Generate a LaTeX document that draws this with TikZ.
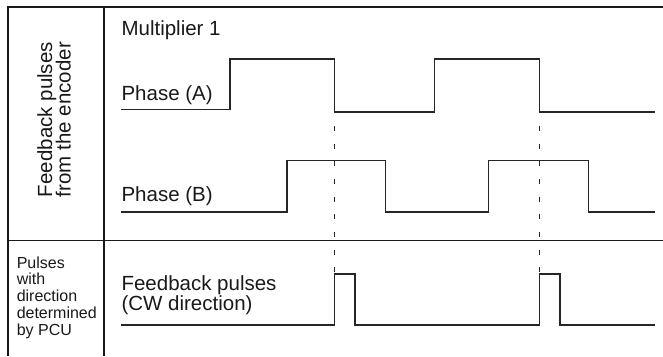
\documentclass[tikz,border=0pt]{standalone}
\usepackage{fontspec}
\setmainfont{Liberation Sans}
\newcommand\mytightlines{\lineskiplimit=-30pt\relax}
\newcommand\mybigfont{\fontsize{20.5}{20}\selectfont\mytightlines}
\newcommand\myrotfont{\fontsize{20.5}{18.7}\selectfont\mytightlines}
\newcommand\mysmallfont{\fontsize{16}{16.7}\selectfont\mytightlines}
\begin{document}
\begin{tikzpicture}[x=1pt,y=-1pt, line width=1.1pt,
  frame/.style={draw=black!90},
  wave/.style={draw=black!85, line join=miter},
  guide/.style={draw=black!85, line width=1pt, dash pattern=on 5pt off 12.65pt},
  big/.style={font=\mybigfont, text=black!90, inner sep=0pt, anchor=base west, align=left},
  small/.style={font=\mysmallfont, text=black!90, inner sep=0pt, anchor=base west, align=left}]
\useasboundingbox (0,0) rectangle (663,356);
% frame
\coordinate (ftr) at (663,7);
\coordinate (ftl) at (8,7);
\coordinate (fbl) at (8,356);
\coordinate (dtop) at (104,7);
\coordinate (dbot) at (104,356);
\coordinate (hl) at (8,240.7);
\coordinate (hr) at (663,240.7);
\draw[frame] (ftr) -- (ftl) -- (fbl);
\draw[frame] (dtop) -- (dbot);
\draw[frame] (hl) -- (hr);
% Phase A
\draw[wave] (121,109.3) -- (230,109.3) -- (230,59) -- (334.3,59) -- (334.3,112) -- (434.7,112) -- (434.7,59) -- (539.3,59) -- (539.3,112) -- (655,112);
% Phase B
\draw[wave] (121,212) -- (287,212) -- (287,160.7) -- (385.7,160.7) -- (385.7,212) -- (488.3,212) -- (488.3,160.7) -- (588.3,160.7) -- (588.3,212) -- (655,212);
% Feedback CW
\draw[wave] (121,325) -- (334.3,325) -- (334.3,274) -- (355,274) -- (355,325) -- (539.3,325) -- (539.3,274) -- (560,274) -- (560,325) -- (655,325);
% guides
\coordinate (g1a) at (334.3,126);
\coordinate (g1b) at (334.3,274);
\coordinate (g2a) at (539.3,126);
\coordinate (g2b) at (539.3,274);
\draw[guide] (g1a) -- (g1b);
\draw[guide] (g2a) -- (g2b);
% texts (multi-line nodes: base = baseline of last line)
\node[big] (mult) at (121,35.7) {Multiplier 1};
\node[big] (pa) at (121,100.7) {Phase (A)};
\node[big] (pb) at (121,201.7) {Phase (B)};
\node[big] (fb) at (121,310.7) {Feedback pulses\\(CW direction)};
\node[big, rotate=90, font=\myrotfont] (enc) at (70.7,197.6) {Feedback pulses\\from the encoder};
\node[small] (pcu) at (16.2,335) {Pulses\\with\\direction\\determined\\by PCU};
\end{tikzpicture}
\end{document}
